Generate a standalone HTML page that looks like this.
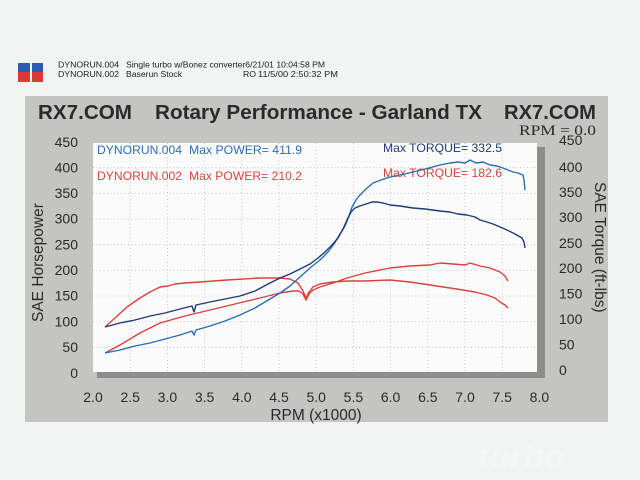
<!DOCTYPE html>
<html><head><meta charset="utf-8">
<style>
html,body{margin:0;padding:0;background:#f2f3f3;}
svg{display:block;}
.s{font-family:"Liberation Sans",Arial,sans-serif;}
</style></head>
<body>
<svg width="640" height="480" viewBox="0 0 640 480" xmlns="http://www.w3.org/2000/svg" class="s" font-family="Liberation Sans, Arial, sans-serif">
<rect x="0" y="0" width="640" height="480" fill="#f2f3f3"/>

<!-- header logo -->
<rect x="18" y="63" width="12" height="9" fill="#2b5cb0"/>
<rect x="32" y="63" width="11" height="9" fill="#2b5cb0"/>
<rect x="18" y="72" width="12" height="10" fill="#d93a36"/>
<rect x="32" y="72" width="11" height="10" fill="#d93a36"/>

<g font-size="8.7" fill="#222">
<text x="58" y="67.5" textLength="61" lengthAdjust="spacingAndGlyphs">DYNORUN.004</text>
<text x="126" y="67.5" textLength="199" lengthAdjust="spacingAndGlyphs">Single turbo w/Bonez converter6/21/01 10:04:58 PM</text>
<text x="58" y="77" textLength="61" lengthAdjust="spacingAndGlyphs">DYNORUN.002</text>
<text x="126" y="77" textLength="56" lengthAdjust="spacingAndGlyphs">Baserun Stock</text>
<text x="243" y="77">RO</text>
<text x="258" y="77" textLength="80" lengthAdjust="spacingAndGlyphs">11/5/00 2:50:32 PM</text>
</g>

<!-- gray panel -->
<rect x="25" y="96" width="583" height="326" fill="#c4c5c3"/>

<!-- title -->
<g font-size="20.6" font-weight="bold" fill="#2a2a2a">
<text x="38" y="119" textLength="94" lengthAdjust="spacingAndGlyphs">RX7.COM</text>
<text x="155" y="119" textLength="327" lengthAdjust="spacingAndGlyphs">Rotary Performance - Garland TX</text>
<text x="504" y="119" textLength="92" lengthAdjust="spacingAndGlyphs">RX7.COM</text>
</g>
<text x="519" y="135" style="font-family:'Liberation Serif','Times New Roman',serif" font-size="15" fill="#2a2a2a" textLength="77" lengthAdjust="spacingAndGlyphs">RPM = 0.0</text>

<!-- plot shadow -->
<rect x="97" y="147" width="448" height="231" fill="#8d8e8c"/>
<!-- plot area -->
<rect x="93" y="143" width="444" height="229" fill="#fbfbfb"/>

<!-- grid -->
<g stroke="#bdbdbd" stroke-width="0.8" stroke-dasharray="1,2.5" fill="none">
<line x1="130.2" y1="143" x2="130.2" y2="372"/>
<line x1="167.4" y1="143" x2="167.4" y2="372"/>
<line x1="204.6" y1="143" x2="204.6" y2="372"/>
<line x1="241.8" y1="143" x2="241.8" y2="372"/>
<line x1="279" y1="143" x2="279" y2="372"/>
<line x1="316.2" y1="143" x2="316.2" y2="372"/>
<line x1="353.4" y1="143" x2="353.4" y2="372"/>
<line x1="390.6" y1="143" x2="390.6" y2="372"/>
<line x1="427.8" y1="143" x2="427.8" y2="372"/>
<line x1="465" y1="143" x2="465" y2="372"/>
<line x1="502.2" y1="143" x2="502.2" y2="372"/>
<line x1="93" y1="347.3" x2="537" y2="347.3"/>
<line x1="93" y1="321.7" x2="537" y2="321.7"/>
<line x1="93" y1="296" x2="537" y2="296"/>
<line x1="93" y1="270.3" x2="537" y2="270.3"/>
<line x1="93" y1="244.7" x2="537" y2="244.7"/>
<line x1="93" y1="219" x2="537" y2="219"/>
<line x1="93" y1="193.3" x2="537" y2="193.3"/>
<line x1="93" y1="167.7" x2="537" y2="167.7"/>
</g>

<!-- legend texts -->
<g font-size="12.3">
<text x="97" y="154" fill="#2e6db3" textLength="85" lengthAdjust="spacingAndGlyphs">DYNORUN.004</text>
<text x="189" y="154" fill="#2e6db3" textLength="113" lengthAdjust="spacingAndGlyphs">Max POWER= 411.9</text>
<text x="97" y="180" fill="#d64540" textLength="85" lengthAdjust="spacingAndGlyphs">DYNORUN.002</text>
<text x="189" y="180" fill="#d64540" textLength="113" lengthAdjust="spacingAndGlyphs">Max POWER= 210.2</text>
<text x="383" y="152" fill="#1f3b78" textLength="119" lengthAdjust="spacingAndGlyphs">Max TORQUE= 332.5</text>
<text x="383" y="177" fill="#d64540" textLength="119" lengthAdjust="spacingAndGlyphs">Max TORQUE= 182.6</text>
</g>

<!-- curves -->
<g fill="none" stroke-width="1.4" stroke-linejoin="round">
<!-- red power 002 -->
<polyline stroke="#d9413d" points="105,353 120,345 140,333 160,323 185,316 210,310 235,304 260,298 280,293 293,291 299,291 303,294 306,300 309,294 313,290 320,287 333,283 347,278 365,273 390,268 410,266 430,265 440,263 453,264 465,265 470,263 480,266 490,268 500,272 505,276 508,281"/>
<!-- red torque 002 -->
<polyline stroke="#d9413d" points="105,327 115,318 127,307 140,298 150,292 160,287 168,286 175,284 185,283 200,282 227,280 260,278 280,278 290,279 298,283 303,291 306,298 309,292 313,287 320,284 333,282 347,281 365,281 390,280 410,282 430,285 450,288 463,290 475,292 487,295 495,298 500,302 505,305 508,308"/>
<!-- light blue power 004 -->
<polyline stroke="#2b6db5" points="105,353 120,350 135,346 150,343 165,339 180,335 192,331 194,335 196,330 210,326 225,321 240,315 255,308 270,299 280,293 290,286 300,277 310,268 320,260 328,252 334,244 340,234 345,226 349,216 352,207 356,200 360,195 366,189 373,183 381,180 390,177 400,175 413,172 425,169 440,165 450,163 458,162 465,163 470,160 476,163 483,162 490,165 497,166 503,168 508,170 513,172 518,173 523,175 524,180 525,190"/>
<!-- dark navy torque 004 -->
<polyline stroke="#1d3a78" points="105,327 120,323 135,320 150,316 165,313 180,309 192,306 194,312 196,305 210,302 225,299 240,296 255,291 270,283 280,278 290,274 300,269 310,264 318,258 325,252 332,245 338,238 343,229 347,220 351,212 355,208 360,206 366,204 372,202 377,202 383,203 390,205 400,206 413,208 425,209 440,211 450,212 458,214 467,215 475,217 480,220 487,222 493,224 500,227 507,230 515,234 522,238 524,242 525,248"/>
</g>

<!-- left axis labels -->
<g font-size="14" fill="#2a2a2a" text-anchor="end">
<text x="78" y="147">450</text>
<text x="78" y="172.3">400</text>
<text x="78" y="198">350</text>
<text x="78" y="223.7">300</text>
<text x="78" y="249.3">250</text>
<text x="78" y="275">200</text>
<text x="78" y="300.7">150</text>
<text x="78" y="326.3">100</text>
<text x="78" y="352">50</text>
<text x="78" y="378">0</text>
</g>
<text transform="translate(43,322) rotate(-90)" font-size="15.5" fill="#2a2a2a">SAE Horsepower</text>

<!-- right axis labels -->
<g font-size="14" fill="#2a2a2a">
<text x="559" y="145">450</text>
<text x="559" y="172">400</text>
<text x="559" y="197">350</text>
<text x="559" y="222">300</text>
<text x="559" y="248">250</text>
<text x="559" y="273">200</text>
<text x="559" y="298.5">150</text>
<text x="559" y="324">100</text>
<text x="559" y="349.5">50</text>
<text x="559" y="375">0</text>
</g>
<text transform="translate(595,182) rotate(90)" font-size="15.5" fill="#2a2a2a">SAE Torque (ft-lbs)</text>

<!-- x axis labels -->
<g font-size="14" fill="#2a2a2a" text-anchor="middle">
<text x="93" y="402">2.0</text>
<text x="130.2" y="402">2.5</text>
<text x="167.4" y="402">3.0</text>
<text x="204.6" y="402">3.5</text>
<text x="241.8" y="402">4.0</text>
<text x="279" y="402">4.5</text>
<text x="316.2" y="402">5.0</text>
<text x="353.4" y="402">5.5</text>
<text x="390.6" y="402">6.0</text>
<text x="427.8" y="402">6.5</text>
<text x="465" y="402">7.0</text>
<text x="502.2" y="402">7.5</text>
<text x="539.4" y="402">8.0</text>
</g>
<text x="316" y="420" font-size="15.5" fill="#2a2a2a" text-anchor="middle">RPM (x1000)</text>

<!-- faint watermark -->
<text x="478" y="468" font-size="34" font-weight="bold" font-style="italic" fill="#f5f6f6">turbo</text>
</svg>
</body></html>
